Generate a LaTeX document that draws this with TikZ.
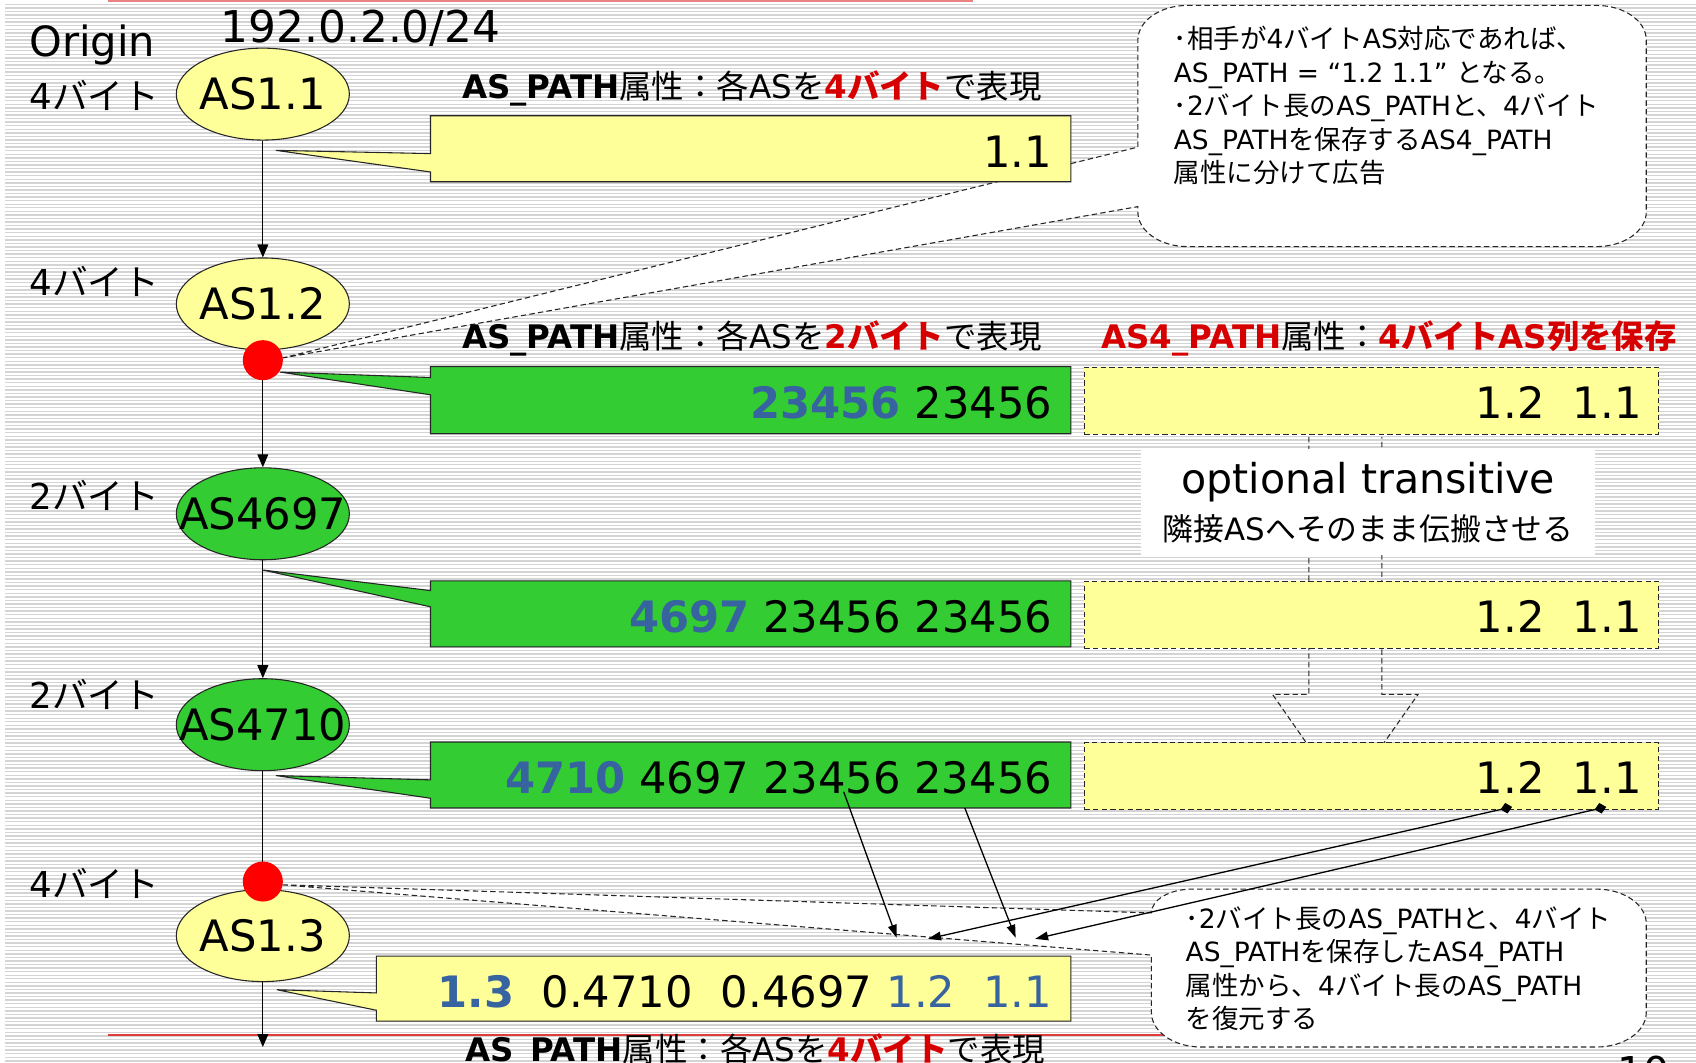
\documentclass[tikz,border=0pt]{standalone}
\usepackage{fontspec}
\setmainfont{DejaVu Sans}
\newfontfamily\jp{Noto Sans CJK JP}
\usetikzlibrary{shapes.geometric,arrows.meta}
\definecolor{ylw}{RGB}{255,255,153}
\definecolor{grn}{RGB}{51,204,51}
\definecolor{asblue}{RGB}{55,100,160}
\definecolor{lblred}{RGB}{215,0,0}
\definecolor{stripe}{RGB}{212,212,212}
\definecolor{pinkline}{RGB}{232,130,130}
\definecolor{redline}{RGB}{225,60,60}
\newcommand{\fs}[1]{\fontsize{#1}{#1}\selectfont}
\begin{document}
\begin{tikzpicture}[x=1pt,y=-1pt,
  bubble/.style={draw=black!85, fill=white, line width=1pt, dash pattern=on 5pt off 3pt},
  cbox/.style={draw=black!85, line width=1pt},
  dbox/.style={draw=black!85, fill=ylw, line width=1pt, dash pattern=on 5pt off 3pt, rectangle, inner sep=0pt, anchor=north west, minimum width=531pt, minimum height=62pt},
  asnode/.style={ellipse, draw=black!85, line width=1pt, minimum width=160pt, minimum height=85pt, inner sep=0pt, font=\fs{40pt}},
  reddot/.style={circle, fill=red, minimum size=37pt, inner sep=0pt},
  arr/.style={line width=1.2pt, -{Triangle[length=12pt,width=10pt]}},
  thinarr/.style={line width=1.2pt, -{Triangle[length=12pt,width=8pt]}},
  lbl/.style={inner sep=0pt, font=\fs{33pt}, anchor=west},
  hdr/.style={inner sep=0pt, font=\fs{30pt}, anchor=west},
  boxtxt/.style={inner sep=0pt, font=\fs{40pt}, anchor=base east},
  note/.style={inner sep=0pt, font=\fontsize{24.5pt}{31pt}\selectfont, align=left, anchor=north west},
]
\useasboundingbox (0,0) rectangle (1568,982);
\fill[white] (0,0) rectangle (1568,982);
\foreach \yy in {4,7.3,...,982} {\draw[stripe, line width=1.3pt] (5,\yy) -- (1568,\yy);}

% red rules
\draw[pinkline, line width=2pt] (100,1) -- (900,1);
\draw[redline, line width=1.5pt] (100,957) -- (1100,957);

% callout bubbles
\coordinate (tipU) at (261,331);
\coordinate (tipL) at (261,818);
\draw[bubble] (tipU) -- (1052,191) -- (1052,196)
  arc[start angle=180, end angle=90, x radius=46, y radius=32] -- (1476,228)
  arc[start angle=90, end angle=0, x radius=46, y radius=32] -- (1522,37)
  arc[start angle=0, end angle=-90, x radius=46, y radius=32] -- (1098,5)
  arc[start angle=-90, end angle=-180, x radius=46, y radius=32] -- (1052,136) -- cycle;
\draw[bubble] (tipL) -- (1064.5,883) -- (1064.5,936)
  arc[start angle=180, end angle=90, x radius=46, y radius=32] -- (1476,968)
  arc[start angle=90, end angle=0, x radius=46, y radius=32] -- (1522,854)
  arc[start angle=0, end angle=-90, x radius=46, y radius=32] -- (1102,822)
  arc[start angle=-90, end angle=-180, x radius=37.5, y radius=22] -- cycle;

% hollow block arrow (dashed)
\draw[line width=1pt, draw=black!85, dash pattern=on 5pt off 3pt]
  (1210,404) -- (1210,642) -- (1176.5,642) -- (1243.5,738) -- (1311,642) -- (1277.5,642) -- (1277.5,404);
\fill[white] (1055,415) rectangle (1475,513);
\node[inner sep=0pt, font=\fs{38pt}] (opt) at (1265,446) {optional transitive};
\node[inner sep=0pt, font=\fs{28.5pt}] (optj) at (1265,489) {{\jp 隣接}AS{\jp へそのまま伝搬させる}};

% left callout boxes
\draw[cbox, fill=ylw] (398,107) -- (990,107) -- (990,168) -- (398,168) -- (398,159) -- (255,139) -- (398,142) -- cycle;
\draw[cbox, fill=grn] (398,339) -- (990,339) -- (990,401) -- (398,401) -- (398,365) -- (259,344) -- (398,349) -- cycle;
\draw[cbox, fill=grn] (398,537) -- (990,537) -- (990,598) -- (398,598) -- (398,561) -- (243,527) -- (398,546) -- cycle;
\draw[cbox, fill=grn] (398,686) -- (990,686) -- (990,747) -- (398,747) -- (398,738) -- (255,717) -- (398,721) -- cycle;
\draw[cbox, fill=ylw] (348,884) -- (990,884) -- (990,944) -- (348,944) -- (348,934) -- (256,915) -- (348,918) -- cycle;

% right AS4_PATH boxes
\node[dbox] (r2) at (1002,339) {};
\node[dbox] (r3) at (1002,537) {};
\node[dbox] (r4) at (1002,686) {};

% box texts
\node[boxtxt] (b1t) at (973,155) {1.1};
\node[boxtxt] (b2t) at (973,387) {\textcolor{asblue}{\bfseries 23456} 23456};
\node[boxtxt] (b3t) at (973,585) {\textcolor{asblue}{\bfseries 4697} 23456 23456};
\node[boxtxt] (b4t) at (973,734) {\textcolor{asblue}{\bfseries 4710} 4697 23456 23456};
\node[boxtxt] (b5t) at (973,931) {\textcolor{asblue}{\bfseries 1.3}\hspace{25pt}0.4710\hspace{26pt}0.4697\hspace{13pt}\textcolor{asblue}{1.2\hspace{26pt}1.1}};
\node[boxtxt] (r2t) at (1518,387) {1.2\hspace{26pt}1.1};
\node[boxtxt] (r3t) at (1518,585) {1.2\hspace{26pt}1.1};
\node[boxtxt] (r4t) at (1518,734) {1.2\hspace{26pt}1.1};

% headers
\node[hdr] (h1) at (427,82) {{\bfseries AS\_PATH}{\jp 属性：各}AS{\jp を}\textcolor{lblred}{\bfseries 4{\jp バイト}}{\jp で表現}};
\node[hdr] (h2) at (427,313) {{\bfseries AS\_PATH}{\jp 属性：各}AS{\jp を}\textcolor{lblred}{\bfseries 2{\jp バイト}}{\jp で表現}};
\node[hdr] (h3) at (1018,313) {\textcolor{lblred}{\bfseries AS4\_PATH}{\jp 属性：}\textcolor{lblred}{\bfseries 4{\jp バイト}AS{\jp 列を保存}}};
\node[hdr, anchor=base west] (h4) at (430,981) {{\bfseries AS\_PATH}{\jp 属性：各}AS{\jp を}\textcolor{lblred}{\bfseries 4{\jp バイト}}{\jp で表現}};

% AS nodes
\node[asnode, fill=ylw] (as11) at (243,87) {\makebox[0pt]{AS1.1}};
\node[asnode, fill=ylw] (as12) at (243,281) {\makebox[0pt]{AS1.2}};
\node[asnode, fill=grn] (as4697) at (243,475) {\makebox[0pt]{AS4697}};
\node[asnode, fill=grn] (as4710) at (243,670) {\makebox[0pt]{AS4710}};
\node[asnode, fill=ylw] (as13) at (243,865) {\makebox[0pt]{AS1.3}};
\coordinate (bottomend) at (243,968);

\draw[arr] (as11) -- (as12);
\draw[arr] (as12) -- (as4697);
\draw[arr] (as4697) -- (as4710);
\draw[arr] (as4710) -- (as13);
\draw[arr] (as13) -- (bottomend);

\node[reddot] (dot1) at (243,333) {};
\node[reddot] (dot2) at (243,815) {};

% left labels
\node[inner sep=0pt, font=\fs{38.5pt}, anchor=base west] (origin) at (27,52) {Origin};
\node[inner sep=0pt, font=\fs{40.5pt}, anchor=base west] (prefix) at (204,39) {192.0.2.0/24};
\node[lbl] (l1) at (27,88) {4{\jp バイト}};
\node[lbl] (l2) at (27,260) {4{\jp バイト}};
\node[lbl] (l3) at (27,458) {2{\jp バイト}};
\node[lbl] (l4) at (27,642) {2{\jp バイト}};
\node[lbl] (l5) at (27,817) {4{\jp バイト}};

% bubble texts
\node[note] (n1) at (1085,24) {{\jp ･相手が}4{\jp バイト}AS{\jp 対応であれば、}\\
AS\_PATH = “1.2 1.1” {\jp となる。}\\
{\jp ･}2{\jp バイト長の}AS\_PATH{\jp と、}4{\jp バイト}\\
AS\_PATH{\jp を保存する}AS4\_PATH\\
{\jp 属性に分けて広告}};
\node[note] (n2) at (1096,838) {{\jp ･}2{\jp バイト長の}AS\_PATH{\jp と、}4{\jp バイト}\\
AS\_PATH{\jp を保存した}AS4\_PATH\\
{\jp 属性から、}4{\jp バイト長の}AS\_PATH\\
{\jp を復元する}};

% mapping arrows
\coordinate (d12) at (1398,746);
\coordinate (e12) at (858,868);
\coordinate (d11) at (1485,746);
\coordinate (e11) at (957,868);
\coordinate (s1) at (780,732);
\coordinate (s1e) at (829,867);
\coordinate (s2) at (892,747);
\coordinate (s2e) at (939,867);
\draw[line width=1.2pt, {Diamond[length=11pt,width=10pt]}-{Triangle[length=12pt,width=8pt]}] (d12) -- (e12);
\draw[line width=1.2pt, {Diamond[length=11pt,width=10pt]}-{Triangle[length=12pt,width=8pt]}] (d11) -- (e11);
\draw[thinarr] (s1) -- (s1e);
\draw[thinarr] (s2) -- (s2e);

% page number
\node[inner sep=0pt, font=\fs{38pt}, anchor=north west] (pnum) at (1495,976) {10};
\end{tikzpicture}
\end{document}
